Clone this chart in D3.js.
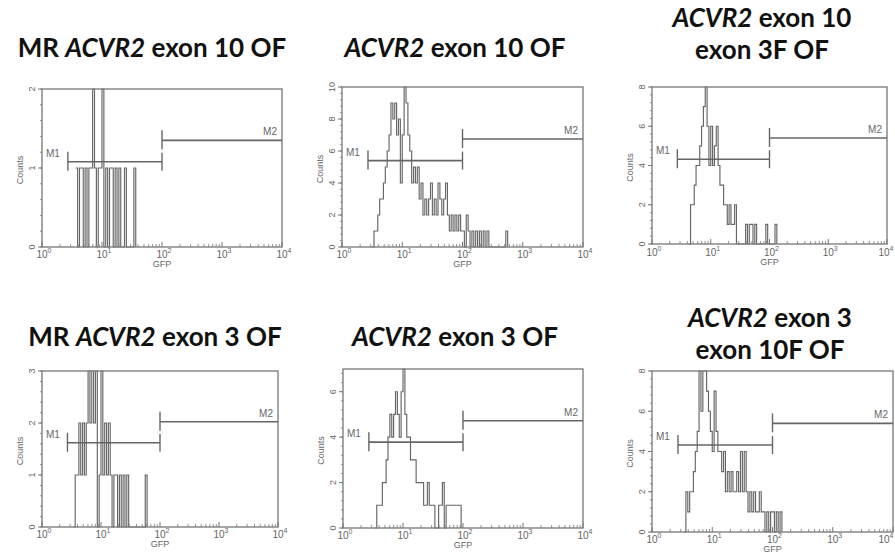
<!DOCTYPE html>
<html>
<head>
<meta charset="utf-8">
<script src="https://cdn.jsdelivr.net/npm/d3@7"></script>
<style>
  body { margin: 0; background: #fff; }
  .title { font-family: Lato, "Open Sans", sans-serif; font-weight: bold; fill: #111; }
  .tick, .axisTitle, .marker { font-family: "Liberation Sans", Arial, sans-serif; fill: #666; }
</style>
</head>
<body>
<div id="chart"></div>
<script>
// histograms are read per channel, 32 channels per decade of GFP
const binsPerDecade = 32

const titles = [
  ["MR *ACVR2* exon 10 OF"],
  ["*ACVR2* exon 10 OF"],
  ["*ACVR2* exon 10", "exon 3F OF"],
  ["MR *ACVR2* exon 3 OF"],
  ["*ACVR2* exon 3 OF"],
  ["*ACVR2* exon 3", "exon 10F OF"]
]
const yMaxes = [2, 10, 8, 3, 7, 8]
const yTickSteps = [1, 2, 2, 1, 2, 2]
const firstChannels = [18, 16, 20, 17, 17, 17]

const counts1 = [1,0,1,1,0,1,0,1,1,2,1,0,1,1,2,0,1,0,1,1,0,1,0,1,0,0,1,0,0,0,0,1]
const counts2 = [0,1,1,2,3,3,4,5,6,7,9,8,9,7,8,4,7,10,9,7,6,4,5,4,5,3,4,2,3,2,3,4,2,3,2,4,3,2,3,4,
                 2,1,2,1,2,1,2,1,1,0,2,1,0,1,0,1,0,1,0,1,0,1,0,0,0,0,0,0,0,0,0,1]
const counts3 = [0,2,2,3,4,4,5,6,7,8,6,4,6,4,5,6,4,3,3,2,2,1,2,1,1,2,0,0,0,0,0,1,0,1,1,0,1,0,0,0,0,0,1,0,0,0,0,1]
const counts4 = [0,1,1,2,1,2,1,2,3,2,3,2,3,0,1,3,1,2,1,2,1,0,1,1,0,1,0,1,0,1,0,0,0,0,0,0,0,0,0,1]
const counts5 = [0,1,1,1,2,2,3,4,5,4,5,6,5,4,6,7,5,4,4,3,3,3,2,2,2,2,1,1,2,1,1,1,0,0,1,1,2,0,1,1,1,1,1,1,1,1]
const counts6 = [0,2,1,2,2,3,4,5,8,6,8,8,7,6,5,4,7,5,4,4,3,4,2,3,2,3,2,2,3,2,4,2,4,2,1,2,1,2,1,1,2,1,1,0,1,0,1,1,0,1,0,1]
const allCounts = [counts1, counts2, counts3, counts4, counts5, counts6]

const xTickValues = [1, 10, 100, 1000, 10000]
const markerNames = ["M1", "M2"]
const markerGates = [[2.7, 100], [100, 10000]]

// where each panel sits on the page
const frames = [
  {x0: 42, x1: 282, y0: 89, y1: 247, tx: 152, ty: [57], bottomLabels: 252},
  {x0: 342, x1: 583, y0: 87, y1: 247, tx: 455, ty: [57], bottomLabels: 252},
  {x0: 652, x1: 887, y0: 87, y1: 244, tx: 762, ty: [27, 59], bottomLabels: 250},
  {x0: 42, x1: 278, y0: 371, y1: 527, tx: 155, ty: [346], bottomLabels: 532},
  {x0: 343, x1: 583, y0: 369, y1: 528, tx: 455, ty: [346], bottomLabels: 533},
  {x0: 652, x1: 893, y0: 371, y1: 532, tx: 770, ty: [327, 359], bottomLabels: 537}
]
const markerLevels = [0.46, 0.325]

let svg = d3.select("#chart").append("svg")
  .attr("width", 895)
  .attr("height", 560)

function addTitleLine(g, text, x, y) {
  let t = g.append("text").attr("class", "title")
    .attr("x", x).attr("y", y)
    .attr("text-anchor", "middle")
    .attr("font-size", 26)
  text.split("*").forEach((part, i) => {
    if (part === "") return
    t.append("tspan").text(part).attr("font-style", i % 2 ? "italic" : "normal")
  })
}

frames.forEach((f, p) => {
  let g = svg.append("g")
  let x = d3.scaleLog().domain([1, 10000]).range([f.x0, f.x1])
  let y = d3.scaleLinear().domain([0, yMaxes[p]]).range([f.y1, f.y0])

  titles[p].forEach((line, i) => addTitleLine(g, line, f.tx, f.ty[i]))

  // histogram, stepped per channel
  let counts = allCounts[p]
  let start = firstChannels[p]
  let pts = counts.map((c, i) => [Math.pow(10, (start + i) / binsPerDecade), c])
  pts.push([Math.pow(10, (start + counts.length) / binsPerDecade), 0])
  let line = d3.line()
    .x(d => x(d[0]))
    .y(d => y(d[1]))
    .curve(d3.curveStepAfter)
  g.append("path")
    .attr("d", line(pts))
    .attr("fill", "none")
    .attr("stroke", "#666")
    .attr("stroke-width", 1.15)

  // frame
  g.append("rect")
    .attr("x", f.x0).attr("y", f.y0)
    .attr("width", f.x1 - f.x0).attr("height", f.y1 - f.y0)
    .attr("fill", "none")
    .attr("stroke", "#808080")
    .attr("stroke-width", 1.4)

  // x ticks, major and minor, inside the frame
  let minor = []
  for (let d = 1; d < 10000; d *= 10) {
    for (let k = 2; k < 10; k++) minor.push(d * k)
  }
  g.selectAll("line.minorX").data(minor).enter().append("line")
    .attr("x1", d => x(d)).attr("x2", d => x(d))
    .attr("y1", f.y1).attr("y2", f.y1 - 3)
    .attr("stroke", "#777").attr("stroke-width", 0.8)
  g.selectAll("line.majorX").data(xTickValues).enter().append("line")
    .attr("x1", d => x(d)).attr("x2", d => x(d))
    .attr("y1", f.y1).attr("y2", f.y1 - 5)
    .attr("stroke", "#777").attr("stroke-width", 1)

  let xl = g.selectAll("text.xl").data(xTickValues).enter().append("text")
    .attr("class", "tick")
    .attr("x", d => Math.min(x(d) + 2, 886))
    .attr("y", f.bottomLabels + 6)
    .attr("text-anchor", "middle")
    .attr("font-size", 10)
  xl.append("tspan").text("10")
  xl.append("tspan").text(d => Math.round(Math.log10(d)))
    .attr("font-size", 7).attr("dy", -5)

  g.append("text").attr("class", "axisTitle")
    .attr("x", (f.x0 + f.x1) / 2)
    .attr("y", f.bottomLabels + 15)
    .attr("text-anchor", "middle")
    .attr("font-size", 9)
    .text("GFP")

  // y ticks
  let yTicks = d3.range(0, yMaxes[p] + 0.001, yTickSteps[p])
  let yMinor = d3.range(0, yMaxes[p] + 0.001, yTickSteps[p] / 5)
  g.selectAll("line.minorY").data(yMinor).enter().append("line")
    .attr("x1", f.x0 - 2).attr("x2", f.x0)
    .attr("y1", d => y(d)).attr("y2", d => y(d))
    .attr("stroke", "#777").attr("stroke-width", 0.8)
  g.selectAll("line.majorY").data(yTicks).enter().append("line")
    .attr("x1", f.x0 - 4).attr("x2", f.x0)
    .attr("y1", d => y(d)).attr("y2", d => y(d))
    .attr("stroke", "#777").attr("stroke-width", 1)
  g.selectAll("text.yl").data(yTicks).enter().append("text")
    .attr("class", "tick")
    .attr("transform", d => "translate(" + (f.x0 - 7) + "," + y(d) + ") rotate(-90)")
    .attr("text-anchor", "middle")
    .attr("font-size", 9)
    .text(d => d)

  g.append("text").attr("class", "axisTitle")
    .attr("transform", "translate(" + (f.x0 - 19) + "," + ((f.y0 + f.y1) / 2 + 2) + ") rotate(-90)")
    .attr("text-anchor", "middle")
    .attr("font-size", 9)
    .text("Counts")

  // M1 / M2 gates
  markerGates.forEach((gate, m) => {
    let my = f.y0 + markerLevels[m] * (f.y1 - f.y0)
    g.append("line")
      .attr("x1", x(gate[0])).attr("x2", x(gate[1]))
      .attr("y1", my).attr("y2", my)
      .attr("stroke", "#666").attr("stroke-width", 1.6)
    g.append("line")
      .attr("x1", x(gate[0])).attr("x2", x(gate[0]))
      .attr("y1", my - 10).attr("y2", my + 9)
      .attr("stroke", "#666").attr("stroke-width", 1.4)
    if (m === 0) {
      g.append("line")
        .attr("x1", x(gate[1])).attr("x2", x(gate[1]))
        .attr("y1", my - 9).attr("y2", my + 9)
        .attr("stroke", "#666").attr("stroke-width", 1.4)
    }
    g.append("text").attr("class", "marker")
      .attr("x", m === 0 ? f.x0 + 4 : f.x1 - 5)
      .attr("y", my - 5)
      .attr("text-anchor", m === 0 ? "start" : "end")
      .attr("font-size", 10)
      .text(markerNames[m])
  })
})
</script>
</body>
</html>
